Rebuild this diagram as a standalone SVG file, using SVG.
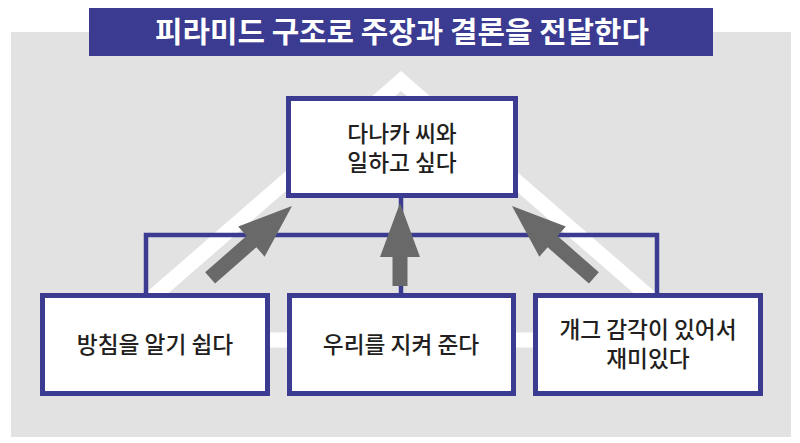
<svg xmlns="http://www.w3.org/2000/svg" width="800" height="443" viewBox="0 0 800 443">
  <defs>
    <style>
      .box { fill: #ffffff; stroke: #3a3b91; stroke-width: 5; }
      .lbl { font-family: "Noto Sans CJK KR", "Noto Sans", sans-serif; font-size: 22.7px; font-weight: 500; fill: #231f20; text-anchor: middle; }
      .link { fill: none; stroke: #3a3b91; stroke-width: 4.5; }
      .arrow { fill: #696969; }
    </style>
    <polygon id="arrowShort" points="0,0 20,54 7.5,54 7.5,83 -7.5,83 -7.5,54 -20,54"/>
    <polygon id="arrowLong" points="0,0 20,54 7.5,54 7.5,109 -7.5,109 -7.5,54 -20,54"/>
  </defs>

  <rect x="0" y="0" width="800" height="443" fill="#ffffff"/>
  <rect x="11" y="32" width="780" height="405" fill="#e2e2e2"/>

  <!-- white pyramid outline -->
  <polygon points="401,81 103,340 699,340" fill="none" stroke="#ffffff" stroke-width="15" stroke-linejoin="miter"/>

  <!-- title -->
  <g id="title">
    <rect x="89" y="8" width="624" height="48" fill="#3a3b91"/>
    <text x="402" y="43" font-family="Noto Sans CJK KR, Noto Sans, sans-serif" font-size="29" font-weight="700" fill="#ffffff" text-anchor="middle" textLength="494" lengthAdjust="spacingAndGlyphs">피라미드 구조로 주장과 결론을 전달한다</text>
  </g>

  <!-- connectors -->
  <g id="connectors">
    <polyline class="link" points="146,293 146,235 657,235 657,293"/>
    <line class="link" x1="401" y1="198" x2="401" y2="293"/>
    <use href="#arrowShort" class="arrow" transform="translate(400,203)"/>
    <use href="#arrowLong" class="arrow" transform="translate(292,206) rotate(48.7)"/>
    <use href="#arrowLong" class="arrow" transform="translate(512,206) rotate(-48.7)"/>
  </g>

  <g id="node-top">
    <rect class="box" x="288.5" y="98.5" width="227" height="97"/>
    <text class="lbl" x="402" y="142"><tspan x="402" y="142">다나카 씨와</tspan><tspan x="402" y="171">일하고 싶다</tspan></text>
  </g>

  <g id="node-left">
    <rect class="box" x="42.5" y="295.5" width="225" height="98"/>
    <text class="lbl" x="155" y="353">방침을 알기 쉽다</text>
  </g>

  <g id="node-middle">
    <rect class="box" x="289.5" y="295.5" width="224" height="98"/>
    <text class="lbl" x="401" y="353">우리를 지켜 준다</text>
  </g>

  <g id="node-right">
    <rect class="box" x="535.5" y="295.5" width="225" height="98"/>
    <text class="lbl" x="648" y="338"><tspan x="648" y="338">개그 감각이 있어서</tspan><tspan x="648" y="367">재미있다</tspan></text>
  </g>
</svg>
